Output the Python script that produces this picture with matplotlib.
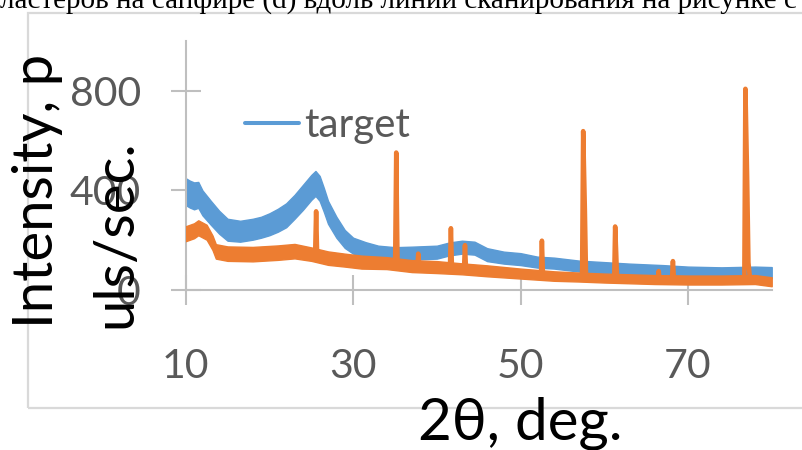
import matplotlib
matplotlib.use('Agg')
import matplotlib.pyplot as plt
from matplotlib.patches import Rectangle

plt.rcParams['font.family'] = ['Lato', 'Open Sans', 'DejaVu Sans']

# ---------------- data ----------------
header_text = "ластеров на сапфире (d) вдоль линии сканирования на рисунке с"
x_ticks = [10, 30, 50, 70]
y_ticks = [0, 400, 800]
x_label = "2θ, deg."
y_label_lines = ["Intensity, p", "uls/sec."]
legend_label = "target"

# "target" series: centre of the noisy band and its half-spread
target_x = [10, 10.5, 11, 11.5, 12, 13, 14, 15, 16.5, 18, 19, 20, 21, 22, 23,
            24, 25, 25.5, 26, 26.5, 27, 28, 29, 30, 31.5, 33, 35, 37, 40, 41.5,
            43, 44.5, 46, 48, 50, 52, 54, 57, 60, 63, 67, 70, 74, 78, 80]
target_y = [395, 385, 378, 382, 350, 310, 272, 242, 236, 244, 252, 264, 280, 300, 334,
            372, 412, 428, 408, 362, 312, 252, 205, 178, 164, 152, 146, 148, 152, 165,
            172, 168, 142, 130, 124, 112, 108, 96, 90, 84, 78, 72, 69, 72, 70]
target_spread = [54, 54, 54, 52, 50, 48, 46, 44, 42, 42, 42, 44, 46, 48, 48,
                 50, 50, 50, 50, 48, 46, 42, 36, 32, 28, 26, 26, 26, 26, 26,
                 26, 26, 26, 24, 24, 22, 22, 22, 22, 22, 22, 22, 22, 22, 22]

# second (orange) series: background band
sample_x = [10, 11, 11.5, 12.5, 13.2, 13.6, 15, 18, 21, 23, 25, 27, 29, 31, 34,
            37, 40, 43, 46, 50, 54, 57, 60, 63, 66, 70, 74, 78, 80]
sample_y = [226, 238, 250, 232, 190, 155, 146, 144, 150, 156, 144, 128, 120, 112, 108,
            96, 92, 85, 77, 66, 56, 52, 48, 45, 42, 40, 40, 42, 33]
sample_spread = [30, 30, 30, 30, 29, 29, 29, 29, 29, 29, 27, 27, 26, 26, 24,
                 24, 24, 22, 22, 20, 19, 18, 18, 18, 18, 18, 18, 18, 18]

# orange diffraction peaks (2θ, intensity) vertices
sample_peaks = [
    [(25.46, 140), (25.58, 316), (25.70, 140)],
    [(35.02, 110), (35.15, 552), (35.30, 110)],
    [(37.68, 100), (37.78, 146), (37.88, 100)],
    [(41.57, 92), (41.68, 248), (41.80, 92)],
    [(43.25, 88), (43.36, 180), (43.48, 86)],
    [(52.44, 62), (52.55, 198), (52.67, 62)],
    [(57.35, 54), (57.48, 638), (57.68, 322), (57.82, 54)],
    [(61.19, 48), (61.30, 255), (61.42, 150), (61.52, 48)],
    [(66.40, 42), (66.50, 76), (66.60, 42)],
    [(68.09, 42), (68.20, 116), (68.32, 42)],
    [(76.73, 40), (76.86, 808), (77.06, 456), (77.22, 110), (77.42, 40)],
]

BLUE = '#5b9bd5'
ORANGE = '#ed7d31'
AXIS_GRAY = '#bfbfbf'
LABEL_GRAY = '#595959'

W, H = 802, 450
fig = plt.figure(figsize=(W / 100, H / 100), dpi=100)
fig.patch.set_facecolor('white')

# outer chart frame (light gray border, running off the right edge)
fig.patches.append(Rectangle((27.5 / W, 1 - 408 / H), 1.0, (408 - 13) / H,
                             transform=fig.transFigure, fill=False,
                             edgecolor='#d9d9d9', lw=1.6, zorder=0))

ax = fig.add_axes([185.7 / W, 1 - 290 / H, (771.7 - 185.7) / W, 249 / H])
ax.set_xlim(10, 80)
ax.set_ylim(0, 1000)

# target band + line
lo = [c - s for c, s in zip(target_y, target_spread)]
hi = [c + s for c, s in zip(target_y, target_spread)]
ax.fill_between(target_x, lo, hi, color=BLUE, lw=1.0, edgecolor=BLUE, zorder=2)
ax.plot(target_x, target_y, color=BLUE, lw=2.9, solid_capstyle='round',
        label=legend_label, zorder=2)

# sample band + line with peaks
lo = [c - s for c, s in zip(sample_y, sample_spread)]
hi = [c + s for c, s in zip(sample_y, sample_spread)]
ax.fill_between(sample_x, lo, hi, color=ORANGE, lw=1.0, edgecolor=ORANGE, zorder=3)
pts = list(zip(sample_x, sample_y))
for pk in sample_peaks:
    pts.extend(pk)
pts.sort(key=lambda p: p[0])
ax.plot([p[0] for p in pts], [p[1] for p in pts], color=ORANGE, lw=3.3,
        solid_joinstyle='round', solid_capstyle='round', zorder=3)

# axes styling
for side in ('top', 'right'):
    ax.spines[side].set_visible(False)
for side in ('left', 'bottom'):
    ax.spines[side].set_color(AXIS_GRAY)
    ax.spines[side].set_linewidth(1.5)
ax.set_xticks(x_ticks)
ax.set_yticks(y_ticks)
ax.tick_params(axis='both', direction='inout', length=21.6, width=1.5,
               color=AXIS_GRAY, labelcolor=LABEL_GRAY, labelsize=29.5)
ax.tick_params(axis='y', pad=21.5)
ax.tick_params(axis='x', pad=31)
ax.set_facecolor('none')

# legend (only the target entry is visible)
ax.legend(loc='upper left', bbox_to_anchor=(245 / W, 1 - 107 / H),
          bbox_transform=fig.transFigure, frameon=False, fontsize=29,
          handlelength=1.33, handletextpad=0.15, borderpad=0, borderaxespad=0,
          labelcolor=LABEL_GRAY)

# axis titles
fig.text(53.3 / W, 1 - 328.3 / H, y_label_lines[0], rotation=90,
         rotation_mode='anchor', ha='left', va='baseline', fontsize=40.5, color='black')
fig.text(131.7 / W, 1 - 328.3 / H, y_label_lines[1], rotation=90,
         rotation_mode='anchor', ha='left', va='baseline', fontsize=40.5, color='black')
fig.text(520 / W, 1 - 439 / H, x_label, ha='center', va='baseline',
         fontsize=42, color='black')

# clipped document text above the chart
fig.text(0, 1 - 7.5 / H, header_text, family=['Liberation Serif', 'DejaVu Serif'],
         fontsize=21, ha='left', va='baseline', color='black')

fig.savefig('out.png', dpi=100, facecolor='white')
